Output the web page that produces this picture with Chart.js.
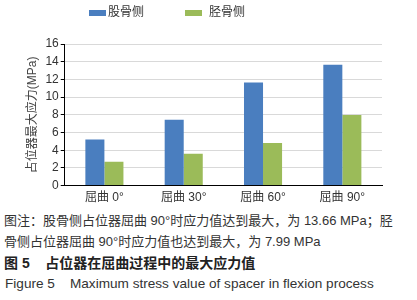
<!DOCTYPE html>
<html lang="zh">
<head>
<meta charset="utf-8">
<title>Figure 5</title>
<script src="https://cdn.jsdelivr.net/npm/chart.js@4/dist/chart.umd.min.js"></script>
<style>
    html, body { margin: 0; padding: 0; background: #fff; }
    body { width: 417px; height: 300px; position: relative; overflow: hidden; }
    #wrap { position: absolute; left: 0; top: 0; width: 417px; height: 210px; }
    .cap {
        position: absolute; left: 4px; white-space: nowrap;
        font-family: "Liberation Sans", "Noto Sans CJK SC", sans-serif;
        font-size: 13px; color: #333; line-height: 16px;
    }
    .cap.bold { font-weight: bold; color: #222; font-size: 14px; }
    .cap.en { font-size: 13.6px; left: 5px; }
</style>
</head>
<body>
<div id="wrap"><canvas id="stressChart"></canvas></div>
<div class="cap" style="top:213px">图注：股骨侧占位器屈曲 90°时应力值达到最大，为 13.66 MPa；胫</div>
<div class="cap" style="top:234px">骨侧占位器屈曲 90°时应力值也达到最大，为 7.99 MPa</div>
<div class="cap bold" style="top:255px">图 5&nbsp;&nbsp;&nbsp;&nbsp;占位器在屈曲过程中的最大应力值</div>
<div class="cap en" style="top:276px">Figure 5&nbsp;&nbsp;&nbsp;&nbsp;Maximum stress value of spacer in flexion process</div>

<script>
/*************************************************
 * 1. Data
 *************************************************/
const categories = ["屈曲 0°", "屈曲 30°", "屈曲 60°", "屈曲 90°"];
const seriesNames = ["股骨侧", "胫骨侧"];
const femurValues = [5.2, 7.45, 11.65, 13.66];
const tibiaValues = [2.7, 3.6, 4.8, 7.99];
const yTicks = [0, 2, 4, 6, 8, 10, 12, 14, 16];

const BLUE = "#4a7ebf";
const GREEN = "#9bbb59";
const CJK = "'Liberation Sans', 'Noto Sans CJK SC', sans-serif";

/*************************************************
 * 2. Legend (drawn at fixed spot like the original)
 *************************************************/
const topLegend = {
    id: "topLegend",
    afterDraw(chart) {
        const ctx = chart.ctx;
        const startX = 89, step = 96, boxW = 17, boxH = 6, midY = 13;
        ctx.save();
        ctx.font = "12px " + CJK;
        ctx.textBaseline = "middle";
        chart.data.datasets.forEach((ds, i) => {
            const x = startX + i * step;
            ctx.fillStyle = ds.backgroundColor;
            ctx.fillRect(x, midY - boxH / 2, boxW, boxH);
            ctx.fillStyle = "#333";
            ctx.fillText(ds.label, x + boxW + (i === 0 ? 2 : 7), midY);
        });
        ctx.restore();
    }
};

/*************************************************
 * 3. Chart
 *************************************************/
window.onload = () => {
    const ctx = document.getElementById("stressChart");
    new Chart(ctx, {
        type: "bar",
        data: {
            labels: categories,
            datasets: [
                { label: seriesNames[0], data: femurValues, backgroundColor: BLUE },
                { label: seriesNames[1], data: tibiaValues, backgroundColor: GREEN }
            ]
        },
        options: {
            responsive: true,
            maintainAspectRatio: false,
            animation: false,
            layout: { padding: { top: 44, left: 21, right: 35, bottom: 0 } },
            datasets: { bar: { categoryPercentage: 0.48, barPercentage: 1 } },
            plugins: {
                legend: { display: false },
                tooltip: { enabled: false }
            },
            scales: {
                x: {
                    grid: { display: false, drawTicks: false },
                    border: { color: "#000", width: 1 },
                    ticks: { color: "#333", font: { size: 12, family: CJK }, padding: 5 }
                },
                y: {
                    min: 0,
                    max: 16,
                    afterBuildTicks: axis => { axis.ticks = yTicks.map(v => ({ value: v })); },
                    grid: { color: "#d9d9d9", tickColor: "#000", tickLength: 4 },
                    border: { color: "#000", width: 1 },
                    ticks: { color: "#333", font: { size: 12, family: CJK }, padding: 2, autoSkip: false },
                    title: {
                        display: true,
                        text: "占位器最大应力(MPa)",
                        color: "#444",
                        font: { size: 12, family: CJK },
                        padding: { top: 4, bottom: 4 }
                    }
                }
            }
        },
        plugins: [topLegend]
    });
};
</script>
</body>
</html>
